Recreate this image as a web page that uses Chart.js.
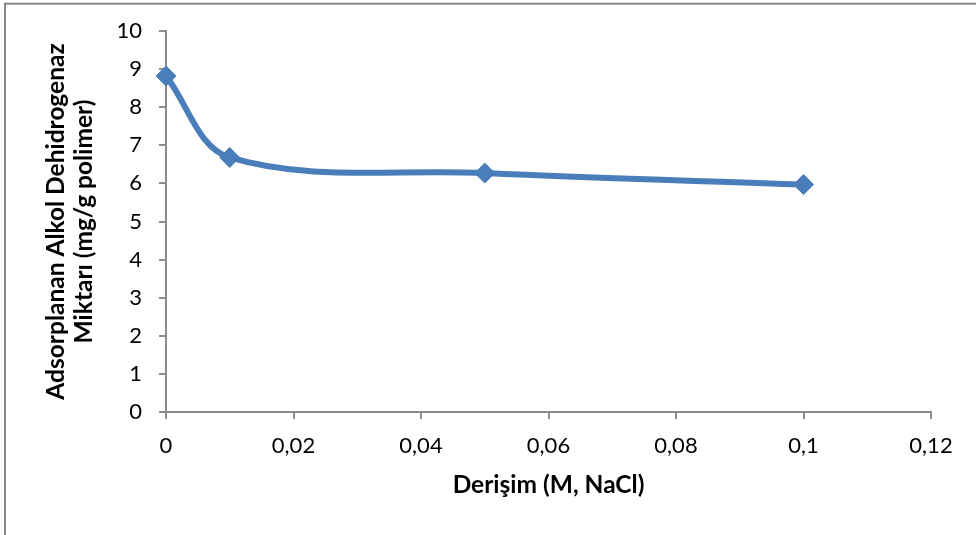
<!DOCTYPE html>
<html>
<head>
<meta charset="utf-8">
<script src="https://cdn.jsdelivr.net/npm/chart.js@4.4.1/dist/chart.umd.min.js"></script>
<style>
    html, body { margin: 0; padding: 0; background: #fff; }
    #wrap { width: 976px; height: 535px; position: relative; }
</style>
</head>
<body>
<div id="wrap"><canvas id="chart-adsorption"></canvas></div>
<script>
// NaCl concentration (M) vs. adsorbed alcohol dehydrogenase (mg/g polymer)
const CONCENTRATION = [0, 0.01, 0.05, 0.1];
const ADSORBED = [8.82, 6.68, 6.27, 5.97];

const X_TITLE = 'Derişim (M, NaCl)';
const Y_TITLE = ['Adsorplanan Alkol Dehidrogenaz', 'Miktarı (mg/g polimer)'];

const FONT = 'Lato, "Open Sans", sans-serif';
const AXIS_GREY = '#8c8c8c';
const SERIES_BLUE = '#4a7ebb';

// outer frame of the chart object (right/bottom edges run off the canvas)
const framePlugin = {
    id: 'frame',
    beforeDraw(chart) {
        const ctx = chart.ctx;
        ctx.save();
        ctx.fillStyle = '#fff';
        ctx.fillRect(0, 0, chart.width, chart.height);
        ctx.strokeStyle = '#868686';
        ctx.lineWidth = 2;
        ctx.strokeRect(5, 3.7, chart.width + 20, chart.height + 20);
        ctx.restore();
    }
};

function commaDecimal(v) {
    return String(parseFloat(Number(v).toFixed(2))).replace('.', ',');
}

var domChart = document.getElementById('chart-adsorption');
new Chart(domChart, {
    type: 'line',
    data: {
        datasets: [
            {
                label: 'Adsorplanan miktar',
                data: CONCENTRATION.map((x, i) => ({ x: x, y: ADSORBED[i] })),
                borderColor: SERIES_BLUE,
                backgroundColor: SERIES_BLUE,
                borderWidth: 6,
                tension: 0.35,
                fill: false,
                pointStyle: 'rectRot',
                pointRadius: 10,
                pointHoverRadius: 10,
                pointBorderWidth: 1,
                pointBorderColor: SERIES_BLUE,
                pointBackgroundColor: SERIES_BLUE,
                clip: 14
            }
        ]
    },
    options: {
        responsive: true,
        maintainAspectRatio: false,
        animation: false,
        events: [],
        layout: {
            padding: { left: 40, right: 45, top: 31, bottom: 0 }
        },
        plugins: {
            legend: { display: false },
            tooltip: { enabled: false },
            title: { display: false }
        },
        scales: {
            x: {
                type: 'linear',
                min: 0,
                max: 0.12,
                grid: {
                    drawOnChartArea: false,
                    drawTicks: true,
                    tickLength: 7,
                    color: AXIS_GREY,
                    lineWidth: 2
                },
                border: { display: true, color: AXIS_GREY, width: 2 },
                ticks: {
                    stepSize: 0.02,
                    padding: 14,
                    color: '#000',
                    maxRotation: 0,
                    font: { family: FONT, size: 22 },
                    callback: commaDecimal
                },
                title: {
                    display: true,
                    text: X_TITLE,
                    color: '#000',
                    font: { family: FONT, size: 24.5, weight: 'bold' },
                    padding: { top: 0, bottom: 35 }
                },
                afterFit: (scale) => { scale.height = 123; }
            },
            y: {
                min: 0,
                max: 10,
                grid: {
                    drawOnChartArea: false,
                    drawTicks: true,
                    tickLength: 7,
                    color: AXIS_GREY,
                    lineWidth: 2
                },
                border: { display: true, color: AXIS_GREY, width: 2 },
                ticks: {
                    stepSize: 1,
                    padding: 17,
                    color: '#000',
                    font: { family: FONT, size: 22 }
                },
                title: {
                    display: true,
                    text: Y_TITLE,
                    color: '#000',
                    font: { family: FONT, size: 24.5, weight: 'bold', lineHeight: 1.14 },
                    padding: { top: 2, bottom: 0 }
                },
                afterFit: (scale) => { scale.width = 126; }
            }
        }
    },
    plugins: [framePlugin]
});
</script>
</body>
</html>
